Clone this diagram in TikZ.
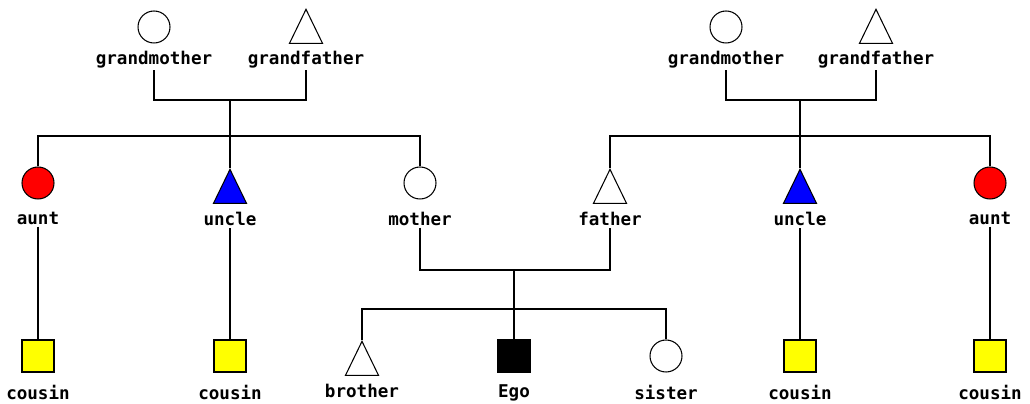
\documentclass[tikz,border=0pt]{standalone}
\usepackage{fontspec}
\setmonofont{DejaVu Sans Mono}
\usetikzlibrary{positioning, shapes.geometric}

\definecolor{auntred}{RGB}{255,0,0}
\definecolor{uncleblue}{RGB}{0,0,255}
\definecolor{cousinyellow}{RGB}{255,255,0}

\tikzset{
	female/.style={circle, draw, minimum size=0.64cm, inner sep=0},
	male/.style={isosceles triangle, isosceles triangle stretches, shape border rotate=90, draw, minimum width=0.66cm, minimum height=0.68cm, inner sep=0},
	kid/.style={rectangle, draw, minimum size=0.64cm, inner sep=0},
	lbl/.style={font=\ttfamily\bfseries\fontsize{10}{12}\selectfont, inner sep=1pt},
}

\begin{document}
\begin{tikzpicture}[x=0.02cm, y=-0.02cm, line width=0.6pt]
		\useasboundingbox (0,0) rectangle (1030,404);
		
		% mother's side
		\node[female] (gm1) at (154,27) {};
		\node[lbl, below = 0.1cm of gm1] (gm1-l) {grandmother};
		\node[male] (gf1) at (306,33) {};
		\node[lbl, below = 0.1cm of gf1] (gf1-l) {grandfather};
		
		\node[female, fill=auntred] (aunt1) at (38,183) {};
		\node[lbl, below = 0.2cm of aunt1] (aunt1-l) {aunt};
		\node[male, fill=uncleblue] (uncle1) at (230,193) {};
		\node[lbl, below = 0.12cm of uncle1] (uncle1-l) {uncle};
		\node[female] (mother) at (420,183) {};
		\node[lbl, below = 0.2cm of mother] (mother-l) {mother};
		
		% father's side
		\node[female] (gm2) at (726,27) {};
		\node[lbl, below = 0.1cm of gm2] (gm2-l) {grandmother};
		\node[male] (gf2) at (876,33) {};
		\node[lbl, below = 0.1cm of gf2] (gf2-l) {grandfather};
		
		\node[male] (father) at (610,193) {};
		\node[lbl, below = 0.12cm of father] (father-l) {father};
		\node[male, fill=uncleblue] (uncle2) at (800,193) {};
		\node[lbl, below = 0.12cm of uncle2] (uncle2-l) {uncle};
		\node[female, fill=auntred] (aunt2) at (990,183) {};
		\node[lbl, below = 0.2cm of aunt2] (aunt2-l) {aunt};
		
		% bottom row
		\node[kid, fill=cousinyellow] (cousin1) at (38,356) {};
		\node[lbl, below = 0.2cm of cousin1] (cousin1-l) {cousin};
		\node[kid, fill=cousinyellow] (cousin2) at (230,356) {};
		\node[lbl, below = 0.2cm of cousin2] (cousin2-l) {cousin};
		\node[male] (brother) at (362,365) {};
		\node[lbl, below = 0.12cm of brother] (brother-l) {brother};
		\node[kid, fill=black] (ego) at (514,356) {};
		\node[lbl, below = 0.2cm of ego] (ego-l) {Ego};
		\node[female] (sister) at (666,356) {};
		\node[lbl, below = 0.2cm of sister] (sister-l) {sister};
		\node[kid, fill=cousinyellow] (cousin3) at (800,356) {};
		\node[lbl, below = 0.2cm of cousin3] (cousin3-l) {cousin};
		\node[kid, fill=cousinyellow] (cousin4) at (990,356) {};
		\node[lbl, below = 0.2cm of cousin4] (cousin4-l) {cousin};
		
		% lines
		\coordinate (gp1) at (230,100);
		\coordinate (sib1) at (230,136);
		\coordinate (gp2) at (800,100);
		\coordinate (sib2) at (800,136);
		\coordinate (par) at (514,270);
		\coordinate (sib0) at (514,309);
		
		\draw (gm1-l) |- (gp1) -| (gf1-l);
		\draw (gp1) -- (sib1);
		\draw (aunt1) |- (sib1) -| (mother);
		\draw (sib1) -- (uncle1);
		
		\draw (gm2-l) |- (gp2) -| (gf2-l);
		\draw (gp2) -- (sib2);
		\draw (father) |- (sib2) -| (aunt2);
		\draw (sib2) -- (uncle2);
		
		\draw (mother-l) |- (par) -| (father-l);
		\draw (par) -- (ego);
		\draw (brother) |- (sib0) -| (sister);
		
		\draw (aunt1-l) -- (cousin1);
		\draw (uncle1-l) -- (cousin2);
		\draw (uncle2-l) -- (cousin3);
		\draw (aunt2-l) -- (cousin4);
	\end{tikzpicture}
\end{document}
